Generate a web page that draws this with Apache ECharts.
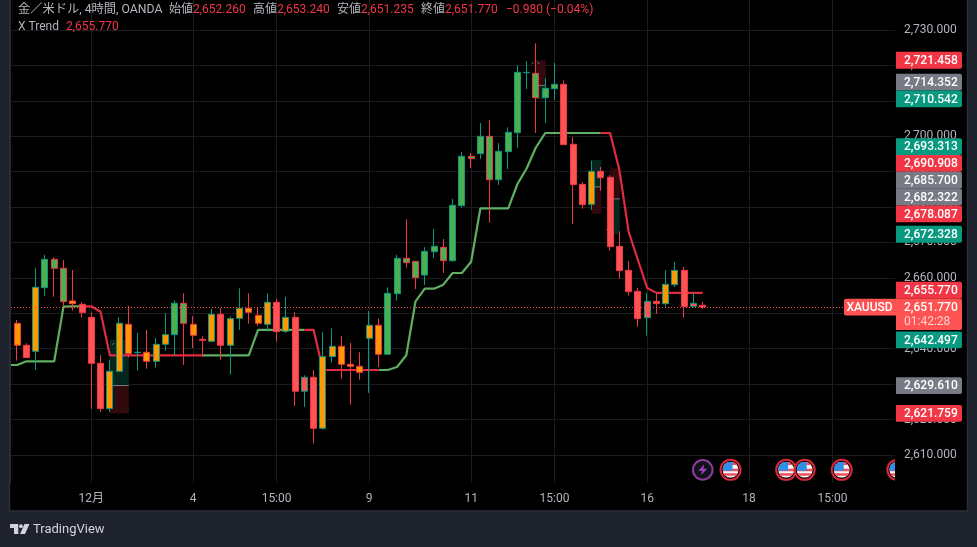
<!DOCTYPE html>
<html>
<head>
<meta charset="utf-8">
<title>XAUUSD</title>
<style>
html, body { margin: 0; padding: 0; background: #1e222d; }
#chart { width: 977px; height: 547px; }
</style>
<script src="https://cdn.jsdelivr.net/npm/echarts@6/dist/echarts.min.js"></script>
</head>
<body>
<div id="chart"></div>
<script>
// candles, left to right, 4h bars
var opens = [2645.95,2647.18,2640.97,2639.27,2657.25,2665.25,2662.71,2653.49,2652.54,2648.87,2635.88,2623.09,2633.63,2646.90,2638.90,2639.00,2636.45,2641.25,2643.98,2652.83,2646.90,2642.66,2642.10,2649.72,2640.97,2648.59,2651.42,2649.44,2646.90,2653.11,2644.92,2648.87,2628.00,2631.93,2617.53,2637.77,2640.69,2635.60,2635.04,2642.95,2646.62,2638.43,2655.55,2665.53,2664.68,2660.82,2667.41,2668.63,2664.87,2680.40,2694.33,2695.08,2699.98,2687.74,2695.65,2701.01,2717.95,2717.76,2710.89,2713.44,2714.66,2697.72,2686.42,2680.77,2690.09,2688.40,2668.92,2662.14,2656.21,2648.77,2653.39,2652.73,2658.09,2662.14,2651.97,2652.26];
var closes = [2647.18,2640.97,2637.49,2657.35,2665.25,2662.71,2653.30,2652.73,2650.19,2635.88,2623.09,2633.63,2647.18,2638.62,2639.00,2636.45,2641.25,2643.98,2652.83,2647.18,2643.79,2642.38,2649.72,2640.97,2648.50,2651.42,2650.29,2647.18,2653.11,2644.83,2648.87,2628.00,2631.93,2617.53,2637.77,2640.69,2635.60,2635.04,2633.35,2646.62,2638.43,2655.65,2665.53,2664.30,2660.07,2667.50,2668.92,2664.87,2680.49,2694.33,2693.67,2699.98,2687.74,2695.74,2701.11,2718.05,2718.05,2710.89,2713.53,2714.66,2697.62,2686.33,2680.68,2690.09,2688.31,2668.82,2662.05,2656.12,2648.49,2653.39,2652.73,2658.19,2662.14,2651.88,2652.82,2651.77];
var lows = [2644.50,2636.64,2637.49,2634.00,2654.90,2654.71,2652.17,2650.76,2648.78,2622.99,2622.15,2622.15,2633.53,2637.49,2633.81,2634.38,2634.66,2639.46,2638.05,2635.42,2640.21,2637.77,2642.10,2636.92,2632.69,2645.30,2647.09,2646.52,2644.83,2642.00,2644.45,2623.84,2623.56,2613.20,2617.25,2636.08,2631.56,2624.22,2631.27,2627.51,2634.85,2638.33,2653.58,2662.89,2656.87,2658.00,2665.62,2661.39,2664.59,2679.83,2691.03,2693.58,2675.60,2686.24,2690.75,2696.68,2713.34,2700.92,2703.74,2710.24,2697.62,2675.22,2679.55,2679.18,2684.64,2667.69,2659.79,2654.99,2646.23,2643.69,2649.90,2651.88,2657.43,2648.77,2651.79,2651.235];
var highs = [2648.00,2648.12,2641.53,2662.80,2666.47,2665.82,2665.06,2662.24,2653.20,2650.28,2638.24,2636.83,2648.87,2652.07,2644.45,2645.30,2643.04,2650.01,2653.67,2655.65,2649.16,2643.51,2651.23,2651.41,2649.16,2657.06,2655.65,2651.70,2655.65,2654.05,2654.62,2650.38,2632.50,2634.00,2644.73,2645.77,2643.60,2641.63,2639.00,2650.66,2648.59,2657.35,2666.47,2676.54,2664.68,2668.63,2673.81,2670.99,2682.28,2695.55,2695.27,2703.74,2704.59,2698.09,2702.52,2720.02,2721.15,2726.24,2716.35,2720.68,2715.79,2699.79,2687.08,2693.11,2691.32,2689.06,2673.15,2664.78,2657.15,2655.74,2655.65,2662.23,2664.49,2663.08,2655.74,2653.24];
// body fill of each candle: g green, o orange, r red
var fills = 'gorogggorrrooooooogg'.concat('ororooooororrrooooooo', 'ggggggggggggggggggg', 'rrrorrrrrrroorrr').split('');

// X Trend indicator, one value per candle
var trendValues = [2635.41,2635.41,2636.46,2636.46,2636.46,2636.46,2651.90,2652.00,2652.00,2652.00,2650.46,2638.15,2638.15,2638.15,2638.15,2638.15,2638.15,2638.15,2638.15,2638.15,2638.15,2638.15,2638.15,2638.15,2638.15,2638.15,2638.15,2645.30,2645.30,2645.30,2645.30,2645.30,2645.30,2645.30,2634.00,2634.00,2634.00,2634.00,2634.00,2634.00,2634.00,2634.00,2634.85,2638.15,2653.40,2656.96,2656.96,2658.09,2661.39,2661.39,2664.58,2679.66,2679.66,2679.66,2679.66,2686.52,2690.95,2696.88,2700.92,2700.92,2700.92,2700.92,2700.92,2700.92,2700.92,2700.92,2690.47,2673.05,2665.06,2657.15,2655.77,2655.77,2655.77,2655.77,2655.77,2655.77];
var trendUpRuns = [[0, 8], [21, 32], [40, 64]];
var trendDownRuns = [[8, 21], [32, 40], [64, 75]];

var lastClose = 2651.77;
var countdown = '01:42:28';

// price tags on the scale
var tagValues = [2721.458,2714.352,2710.542,2693.313,2690.908,2685.700,2682.322,2678.087,2672.328,2655.770,2651.770,2642.497,2629.610,2621.759];
var tagKinds = ['stop','entry','target','target','stop','entry','entry','stop','target','stop','last','target','entry','stop'];

// position tools: from bar, to bar, stop, entry, target
var boxFrom = [11, 57, 63, 65];
var boxTo = [13, 58, 64, 66];
var boxStop = [2621.759, 2721.458, 2678.087, 2690.908];
var boxEntry = [2629.610, 2714.352, 2685.700, 2682.322];
var boxTarget = [2642.497, 2710.542, 2693.313, 2672.328];
// little handle marks the tools leave on the chart
var handleBars = [11.7, 56.95, 65.0];
var handleLevels = [2641.4, 2720.6, 2673.8];

// event markers under the candles
var flagBars = [78, 84, 86, 90, 96];
var boltBars = [75];
var eventLevel = 2605.8;

var yTicks = [2610,2620,2630,2640,2650,2660,2670,2680,2690,2700,2710,2720,2730];
var xTicks = [9, 20, 29, 39, 50, 59, 69, 80, 89];
var xTickLabels = ['12月', '4', '15:00', '9', '11', '15:00', '16', '18', '15:00'];

var FONT = 'Roboto, "Noto Sans CJK JP", sans-serif';
var UP = '#089981', DOWN = '#f23645';
var fillColors = { g: '#4caf50', o: '#ff9800', r: '#ff5252' };
var tagColors = { stop: '#f23645', entry: '#787b86', target: '#089981', last: '#ff5252' };
var TEXT = '#b2b5be';

// borderColor0 is not picked up per item here, so each candle gets its own edge colour
var candleData = opens.map(function (o, i) {
  var f = fillColors[fills[i]];
  var edge = closes[i] >= o ? UP : DOWN;
  return {
    value: [i, o, closes[i], lows[i], highs[i]],
    itemStyle: { color: f, color0: f, borderColor: edge, borderColor0: edge, borderWidth: 1 }
  };
});

function inRuns(runs, i) {
  return runs.some(function (r) { return i >= r[0] && i <= r[1]; });
}
function trendData(runs) {
  return trendValues.map(function (v, i) { return [i, inRuns(runs, i) ? v : null]; });
}
function money(v) {
  return v.toLocaleString('en-US', { minimumFractionDigits: 3, maximumFractionDigits: 3 });
}

// the scale pushes tags upward when they would overlap
function tagLayout(api) {
  var TAG_H = 16.8;
  var out = [], limit = Infinity;
  for (var i = tagValues.length - 1; i >= 0; i--) {
    var y = api.coord([0, tagValues[i]])[1];
    var isLast = tagKinds[i] === 'last';
    var top = isLast ? y - TAG_H / 2 : Math.min(y - TAG_H / 2, limit - TAG_H);
    out[i] = top;
    limit = top;
  }
  return out;
}

function renderTag(params, api) {
  var i = api.value(0);
  var top = tagLayout(api)[i];
  var kind = tagKinds[i];
  var children = [
    { type: 'rect', shape: { x: 896, y: top, width: 66, height: kind === 'last' ? 31.4 : 16.8, r: [0, 2, 2, 0] }, style: { fill: tagColors[kind] } },
    { type: 'text', style: { text: money(tagValues[i]), x: 904, y: top + 9.2, fill: '#fff', font: '500 12px ' + FONT, verticalAlign: 'middle' } }
  ];
  if (kind === 'last') {
    children.push({ type: 'text', style: { text: countdown, x: 904, y: top + 23.6, fill: '#ffd0d0', font: '12px ' + FONT, verticalAlign: 'middle' } });
    children.push({ type: 'rect', shape: { x: 844, y: top, width: 52, height: 16.8, r: [2, 0, 0, 2] }, style: { fill: tagColors.last } });
    children.push({ type: 'text', style: { text: 'XAUUSD', x: 869.5, y: top + 9.2, fill: '#fff', font: '500 12px ' + FONT, align: 'center', verticalAlign: 'middle' } });
  }
  return { type: 'group', children: children };
}

function renderBox(params, api) {
  var i = api.value(0);
  var x0 = api.coord([boxFrom[i], 0])[0], x1 = api.coord([boxTo[i], 0])[0] + 0.5;
  var yE = api.coord([0, boxEntry[i]])[1];
  var yS = api.coord([0, boxStop[i]])[1];
  var yT = api.coord([0, boxTarget[i]])[1];
  return {
    type: 'group',
    children: [
      { type: 'rect', shape: { x: x0, y: Math.min(yS, yE), width: x1 - x0, height: Math.abs(yS - yE) }, style: { fill: '#32090d' } },
      { type: 'rect', shape: { x: x0, y: Math.min(yT, yE), width: x1 - x0, height: Math.abs(yT - yE) }, style: { fill: '#05251f' } },
      { type: 'line', shape: { x1: x0, y1: yE, x2: x1, y2: yE }, style: { stroke: '#787b86', lineWidth: 1 } }
    ]
  };
}

function renderHandle(params, api) {
  var p = api.coord([handleBars[api.value(0)], handleLevels[api.value(0)]]);
  return {
    type: 'group', x: p[0], y: p[1],
    children: [
      { type: 'line', shape: { x1: -4, y1: 1, x2: -2, y2: -1 }, style: { stroke: '#787b86', lineWidth: 1 } },
      { type: 'line', shape: { x1: 2, y1: -1, x2: 4, y2: 1 }, style: { stroke: '#787b86', lineWidth: 1 } }
    ]
  };
}

function renderFlag(params, api) {
  var p = api.coord([flagBars[api.value(0)], eventLevel]);
  var r = 8;
  var inner = [
    { x: -r, y: -r, w: 2 * r, h: 2 * r, c: '#f7f7f7' },
    { x: -r, y: -1, w: 2 * r, h: 2.4, c: '#f0505a' },
    { x: -r, y: 3.4, w: 2 * r, h: 2.4, c: '#f0505a' },
    { x: -r, y: -r, w: 2 * r, h: 3.2, c: '#f0505a' },
    { x: -r, y: -r, w: r + 2, h: r + 1, c: '#2f8fe8' }
  ].map(function (b) {
    return {
      type: 'rect',
      clipPath: { type: 'circle', shape: { cx: 0, cy: 0, r: r } },
      shape: { x: b.x, y: b.y, width: b.w, height: b.h },
      style: { fill: b.c }
    };
  });
  return {
    type: 'group',
    clipPath: { type: 'rect', shape: { x: 11, y: 0, width: 884, height: 483 } },
    children: [{
      type: 'group', x: p[0], y: p[1],
      children: [
        { type: 'circle', shape: { cx: 0, cy: 0, r: 10 }, style: { fill: '#000', stroke: '#d8283c', lineWidth: 2 } },
        { type: 'group', children: inner }
      ]
    }]
  };
}

function renderBolt(params, api) {
  var p = api.coord([boltBars[api.value(0)], eventLevel]);
  return {
    type: 'group', x: p[0], y: p[1],
    children: [
      { type: 'circle', shape: { cx: 0, cy: 0, r: 9.8 }, style: { fill: '#10121a', stroke: '#8e3aa0', lineWidth: 2 } },
      { type: 'polygon', shape: { points: [[1.5, -5.5], [-4.5, 1], [-0.5, 1], [-1.8, 5.5], [4.5, -1], [0.5, -1]] }, style: { fill: '#a63cc4' } }
    ]
  };
}

function rowText(x, y, text, color, size) {
  return { type: 'text', z: 20, style: { x: x, y: y, text: text, fill: color, font: (size || 12) + 'px ' + FONT, verticalAlign: 'middle' } };
}

var chart = echarts.init(document.getElementById('chart'), null, { renderer: 'canvas' });

chart.setOption({
  animation: false,
  backgroundColor: '#1e222d',
  textStyle: { fontFamily: FONT },
  grid: { left: 11, right: 82, top: 0, bottom: 64 },
  xAxis: {
    type: 'value',
    min: 0.335,
    max: 95.75,
    axisLine: { show: false },
    axisTick: { show: false, customValues: xTicks },
    splitLine: { show: true, lineStyle: { color: '#1b1c20', width: 1 } },
    axisLabel: {
      customValues: xTicks,
      color: TEXT,
      fontSize: 12,
      margin: 10,
      formatter: function (v) { return xTickLabels[xTicks.indexOf(v)]; }
    }
  },
  yAxis: {
    type: 'value',
    position: 'right',
    min: 2602.09,
    max: 2738.47,
    axisLine: { show: false },
    axisTick: { show: false, customValues: yTicks },
    splitLine: { show: true, lineStyle: { color: '#1b1c20', width: 1 } },
    axisLabel: {
      customValues: yTicks,
      color: TEXT,
      fontSize: 12,
      margin: 9,
      formatter: function (v) { return money(v); }
    }
  },
  graphic: [
    { type: 'rect', z: -10, silent: true, shape: { x: 9.5, y: -2, width: 958, height: 513 }, style: { fill: '#000', stroke: '#2a2e39', lineWidth: 1.5 } },
    // the first candle pokes out of the pane, keep the frame on top of it
    { type: 'rect', z: 15, silent: true, shape: { x: 0, y: 0, width: 9.5, height: 483 }, style: { fill: '#1e222d' } },
    { type: 'rect', z: 15, silent: true, shape: { x: 9.5, y: 0, width: 1.5, height: 483 }, style: { fill: '#2a2e39' } },
    rowText(18, 10, '金／米ドル, 4時間, OANDA', TEXT, 12.25),
    rowText(169, 10, '始値', TEXT), rowText(193, 10, '2,652.260', DOWN),
    rowText(253, 10, '高値', TEXT), rowText(277, 10, '2,653.240', DOWN),
    rowText(337, 10, '安値', TEXT), rowText(361, 10, '2,651.235', DOWN),
    rowText(421, 10, '終値', TEXT), rowText(445, 10, '2,651.770', DOWN),
    rowText(506, 10, '−0.980 (−0.04%)', DOWN),
    rowText(18, 27, 'X Trend', TEXT), rowText(66, 27, '2,655.770', DOWN),
    { type: 'polygon', z: 20, shape: { points: [[10, 524], [18.3, 524], [18.3, 534], [14, 534], [14, 528], [10, 528]] }, style: { fill: '#d1d4dc' } },
    { type: 'circle', z: 20, shape: { cx: 21, cy: 526.2, r: 1.9 }, style: { fill: '#d1d4dc' } },
    { type: 'polygon', z: 20, shape: { points: [[24.5, 524], [29.5, 524], [25, 534], [20, 534]] }, style: { fill: '#d1d4dc' } },
    { type: 'text', z: 20, style: { x: 33, y: 530, text: 'TradingView', fill: '#d1d4dc', font: '13px ' + FONT, verticalAlign: 'middle' } }
  ],
  series: [
    {
      type: 'custom', name: 'position tools', z: 1, clip: false,
      renderItem: renderBox,
      data: boxFrom.map(function (v, i) { return [i]; }),
      encode: { x: [], y: [] }, silent: true
    },
    {
      type: 'custom', name: 'tool handles', z: 1, clip: false, silent: true,
      renderItem: renderHandle,
      data: handleBars.map(function (v, i) { return [i]; }),
      encode: { x: [], y: [] }
    },
    {
      type: 'line', name: 'X Trend up', z: 2, showSymbol: false, connectNulls: false,
      data: trendData(trendUpRuns),
      lineStyle: { color: '#5fae62', width: 2.2 },
      itemStyle: { color: '#5fae62' },
      markLine: {
        silent: true, symbol: 'none', animation: false,
        label: { show: false },
        data: [{ yAxis: lastClose }],
        lineStyle: { color: '#ff5252', type: [1, 2], width: 1 }
      }
    },
    {
      type: 'line', name: 'X Trend down', z: 2, showSymbol: false, connectNulls: false,
      data: trendData(trendDownRuns),
      lineStyle: { color: '#e02b40', width: 2.2 },
      itemStyle: { color: '#e02b40' }
    },
    {
      type: 'candlestick', name: 'XAUUSD', z: 3,
      barWidth: 6.5,
      data: candleData
    },
    {
      type: 'custom', name: 'flags', z: 5, clip: false, silent: true,
      renderItem: renderFlag,
      data: flagBars.map(function (v, i) { return [i]; }),
      encode: { x: [], y: [] }
    },
    {
      type: 'custom', name: 'bolts', z: 5, clip: false, silent: true,
      renderItem: renderBolt,
      data: boltBars.map(function (v, i) { return [i]; }),
      encode: { x: [], y: [] }
    },
    {
      type: 'custom', name: 'price tags', z: 10, clip: false, silent: true,
      renderItem: renderTag,
      data: tagValues.map(function (v, i) { return [i]; }),
      encode: { x: [], y: [] }
    }
  ]
});
</script>
</body>
</html>
